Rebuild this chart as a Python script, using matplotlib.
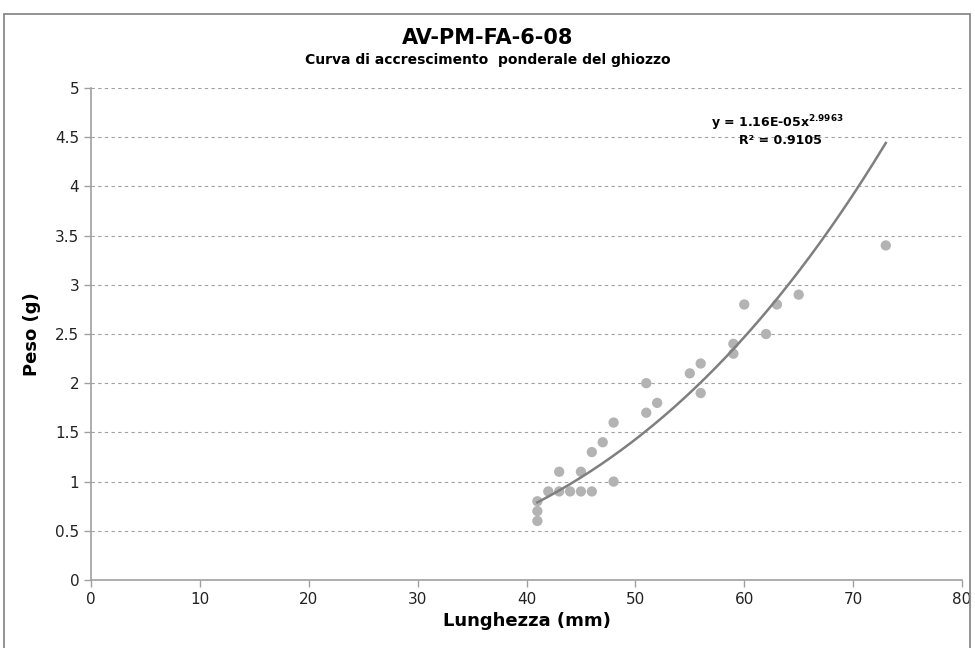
import matplotlib
matplotlib.use("Agg")
import matplotlib.pyplot as plt
import numpy as np
from matplotlib.patches import Rectangle

lunghezza = [41, 41, 41, 42, 43, 43, 44, 45, 45, 46, 46, 47, 48, 48, 51, 51, 52,
             55, 56, 56, 59, 59, 60, 62, 63, 65, 73]
peso = [0.6, 0.7, 0.8, 0.9, 1.1, 0.9, 0.9, 1.1, 0.9, 1.3, 0.9, 1.4, 1.6, 1.0, 2.0, 1.7, 1.8,
        2.1, 2.2, 1.9, 2.4, 2.3, 2.8, 2.5, 2.8, 2.9, 3.4]
coef_a = 1.16e-05
coef_b = 2.9963
r2 = 0.9105

fig = plt.figure(figsize=(9.75, 6.48), dpi=100)
fig.patches.append(Rectangle((4/975, -0.01), 966/975, 1 - 14/648 + 0.01, transform=fig.transFigure,
                             fill=False, edgecolor="#808080", linewidth=1.2))
ax = fig.add_axes([91/975, 1 - 580/648, (962 - 91)/975, (580 - 88)/648])

ax.set_xlim(0, 80)
ax.set_ylim(0, 5)
ax.set_xticks(range(0, 81, 10))
ax.set_yticks(np.arange(0, 5.01, 0.5))
ax.set_yticklabels(["0", "0.5", "1", "1.5", "2", "2.5", "3", "3.5", "4", "4.5", "5"])
ax.grid(axis="y", linestyle=(0, (3, 3)), color="#a0a0a0", linewidth=0.8)
ax.set_axisbelow(True)
for s in ["top", "right"]:
    ax.spines[s].set_visible(False)
for s in ["left", "bottom"]:
    ax.spines[s].set_color("#a0a0a0")
    ax.spines[s].set_linewidth(1.2)
ax.tick_params(axis="both", colors="#a0a0a0", labelcolor="#222222", labelsize=11, length=5, width=1)

ax.scatter(lunghezza, peso, s=55, color="#b3b3b3", edgecolors="none", zorder=3)
xs = np.linspace(min(lunghezza), max(lunghezza), 200)
ax.plot(xs, coef_a * xs ** coef_b, color="#7f7f7f", linewidth=1.8, zorder=4)

ax.set_xlabel("Lunghezza (mm)", fontsize=13, fontweight="bold", labelpad=4)
ax.set_ylabel("Peso (g)", fontsize=13, fontweight="bold", labelpad=10)

fig.text(0.5, 1 - 38/648, "AV-PM-FA-6-08", ha="center", va="center", fontsize=15, fontweight="bold")
fig.text(0.5, 1 - 60/648, "Curva di accrescimento  ponderale del ghiozzo", ha="center", va="center",
         fontsize=10, fontweight="bold")

ax.text(63, 4.64, r"y = 1.16E-05x$^{\mathbf{2.9963}}$", ha="center", va="center", fontsize=9,
        fontweight="bold")
ax.text(63.3, 4.47, "R² = 0.9105", ha="center", va="center", fontsize=9, fontweight="bold")

fig.savefig("out.png", dpi=100)
